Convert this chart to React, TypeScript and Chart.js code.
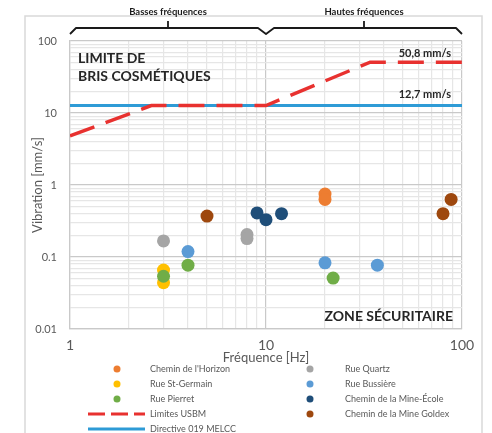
import React, { useEffect, useRef } from 'react';
import { Chart, registerables } from 'chart.js';

Chart.register(...registerables);

// ---------- Data ----------
const xDecades = [1, 10, 100];
const xDecadeLabels = ['1', '10', '100'];
const yDecades = [0.01, 0.1, 1, 10, 100];
const yDecadeLabels = ['0.01', '0.1', '1', '10', '100'];

const horizonFreq = [20, 20];
const horizonVel = [0.75, 0.63];
const stGermainFreq = [3, 3];
const stGermainVel = [0.066, 0.044];
const pierretFreq = [3, 4, 22];
const pierretVel = [0.054, 0.077, 0.051];
const quartzFreq = [3, 8, 8];
const quartzVel = [0.167, 0.205, 0.18];
const bussiereFreq = [4, 20, 37];
const bussiereVel = [0.119, 0.083, 0.077];
const mineEcoleFreq = [9, 10, 12];
const mineEcoleVel = [0.41, 0.33, 0.4];
const goldexFreq = [5, 80, 88];
const goldexVel = [0.37, 0.4, 0.63];

const usbmFreq = [1, 2.6, 10, 34, 100];
const usbmVel = [4.8, 12.7, 12.7, 50.8, 50.8];
const directiveFreq = [1, 100];
const directiveVel = [12.7, 12.7];

const seriesLabels = [
  "Chemin de l'Horizon",
  'Rue St-Germain',
  'Rue Pierret',
  'Rue Quartz',
  'Rue Bussière',
  'Chemin de la Mine-École',
  'Chemin de la Mine Goldex',
  'Limites USBM',
  'Directive 019 MELCC',
];

const FONT = 'Lato, "Open Sans", sans-serif';
const GREY_TEXT = '#595959';

const pts = (xs: number[], ys: number[]) => xs.map((x, i) => ({ x, y: ys[i] }));

const minorTicks = (decades: number[]) => {
  const out: number[] = [];
  for (let d = 0; d < decades.length - 1; d++) {
    for (let k = 1; k <= 9; k++) out.push(decades[d] * k);
  }
  out.push(decades[decades.length - 1]);
  return out;
};

const isDecade = (v: number) => Math.abs(Math.log10(v) - Math.round(Math.log10(v))) < 1e-9;

const labelFor = (v: number, decades: number[], labels: string[]) => {
  for (let i = 0; i < decades.length; i++) {
    if (Math.abs(Math.log10(v) - Math.log10(decades[i])) < 1e-9) return labels[i];
  }
  return '';
};

const overlayPlugin = {
  id: 'overlay',
  afterDraw(chart: any) {
    const { ctx, chartArea: ca, scales } = chart;
    const xs = scales.x;
    const ys = scales.y;
    ctx.save();

    // outer frame
    ctx.strokeStyle = '#D9D9D9';
    ctx.lineWidth = 1.5;
    ctx.beginPath();
    ctx.moveTo(25, 440);
    ctx.lineTo(25, 16);
    ctx.lineTo(482, 16);
    ctx.lineTo(482, 440);
    ctx.stroke();

    // brackets
    const x1 = xs.getPixelForValue(xDecades[0]);
    const x10 = xs.getPixelForValue(xDecades[1]);
    const x100 = xs.getPixelForValue(xDecades[2]);
    const by = 28;
    const be = 34;
    ctx.strokeStyle = '#1a1a1a';
    ctx.lineWidth = 1.8;
    ctx.lineJoin = 'round';
    ctx.beginPath();
    ctx.moveTo(x1, be);
    ctx.lineTo(x1 + 6, by);
    ctx.lineTo(x10 - 8, by);
    ctx.lineTo(x10, be);
    ctx.lineTo(x10 + 8, by);
    ctx.lineTo(x100 - 6, by);
    ctx.lineTo(x100, be);
    ctx.stroke();
    const c1 = (x1 + x10) / 2;
    const c2 = (x10 + x100) / 2;
    ctx.beginPath();
    ctx.moveTo(c1, by);
    ctx.lineTo(c1, 21);
    ctx.moveTo(c2, by);
    ctx.lineTo(c2, 21);
    ctx.stroke();

    ctx.fillStyle = '#1a1a1a';
    ctx.font = `bold 9.5px ${FONT}`;
    ctx.textAlign = 'center';
    ctx.textBaseline = 'middle';
    ctx.fillText('Basses fréquences', c1, 12);
    ctx.fillText('Hautes fréquences', c2, 12);

    // annotations in plot
    ctx.fillStyle = '#262626';
    ctx.font = `bold 14px ${FONT}`;
    ctx.textAlign = 'left';
    ctx.fillText('LIMITE DE', ca.left + 8, 58);
    ctx.fillText('BRIS COSMÉTIQUES', ca.left + 8, 76);
    ctx.textAlign = 'right';
    ctx.fillText('ZONE SÉCURITAIRE', ca.right - 9, ca.bottom - 13);
    ctx.font = `bold 11px ${FONT}`;
    ctx.fillText('50,8 mm/s', ca.right - 11, ys.getPixelForValue(50.8) - 9);
    ctx.fillText('12,7 mm/s', ca.right - 11, ys.getPixelForValue(12.7) - 11);

    // axis titles
    ctx.fillStyle = GREY_TEXT;
    ctx.font = `13px ${FONT}`;
    ctx.textAlign = 'center';
    ctx.fillText('Fréquence [Hz]', x10, 358);
    ctx.save();
    ctx.translate(38, ys.getPixelForValue(1));
    ctx.rotate(-Math.PI / 2);
    ctx.fillText('Vibration [mm/s]', 0, 0);
    ctx.restore();

    // legend
    const ds = chart.data.datasets;
    const leftCol = [0, 1, 2, 7, 8];
    const rightCol = [3, 4, 5, 6];
    const rowY = (i: number) => 369 + i * 15;
    ctx.font = `9px ${FONT}`;
    ctx.textAlign = 'left';
    const drawEntry = (idx: number, row: number, mx: number, tx: number) => {
      const d = ds[idx];
      const y = rowY(row);
      if (d.showLine) {
        ctx.strokeStyle = d.borderColor;
        ctx.lineWidth = 3;
        ctx.setLineDash(d.borderDash && d.borderDash.length ? [17, 6] : []);
        ctx.beginPath();
        ctx.moveTo(88, y);
        ctx.lineTo(145, y);
        ctx.stroke();
        ctx.setLineDash([]);
      } else {
        ctx.fillStyle = d.backgroundColor;
        ctx.beginPath();
        ctx.arc(mx, y, 3.5, 0, Math.PI * 2);
        ctx.fill();
      }
      ctx.fillStyle = GREY_TEXT;
      ctx.fillText(d.label, tx, y);
    };
    leftCol.forEach((idx, r) => drawEntry(idx, r, 117, 150));
    rightCol.forEach((idx, r) => drawEntry(idx, r, 310, 345));

    ctx.restore();
  },
};

const whiteBg = {
  id: 'whiteBg',
  beforeDraw(chart: any) {
    const { ctx, width, height } = chart;
    ctx.save();
    ctx.fillStyle = '#ffffff';
    ctx.fillRect(0, 0, width, height);
    ctx.restore();
  },
};

export default function App() {
  const ref = useRef<HTMLCanvasElement | null>(null);

  useEffect(() => {
    document.body.style.margin = '0';
    if (!ref.current) return;

    const scatterDs = (label: string, xs: number[], ys: number[], color: string, order: number) => ({
      type: 'scatter' as const,
      label,
      data: pts(xs, ys),
      backgroundColor: color,
      borderColor: color,
      borderWidth: 0,
      pointRadius: 6.5,
      pointHoverRadius: 6.5,
      showLine: false,
      order,
    });

    const datasets: any[] = [
      scatterDs(seriesLabels[0], horizonFreq, horizonVel, '#ED7D31', 1),
      scatterDs(seriesLabels[1], stGermainFreq, stGermainVel, '#FFC000', 2),
      scatterDs(seriesLabels[2], pierretFreq, pierretVel, '#70AD47', 1),
      scatterDs(seriesLabels[3], quartzFreq, quartzVel, '#A5A5A5', 1),
      scatterDs(seriesLabels[4], bussiereFreq, bussiereVel, '#5B9BD5', 1),
      scatterDs(seriesLabels[5], mineEcoleFreq, mineEcoleVel, '#1F4E79', 1),
      scatterDs(seriesLabels[6], goldexFreq, goldexVel, '#9E480E', 1),
      {
        type: 'line',
        label: seriesLabels[7],
        data: pts(usbmFreq, usbmVel),
        borderColor: '#E8312F',
        backgroundColor: '#E8312F',
        borderWidth: 3.5,
        borderDash: [26, 12],
        pointRadius: 0,
        showLine: true,
        fill: false,
        tension: 0,
        order: 5,
      },
      {
        type: 'line',
        label: seriesLabels[8],
        data: pts(directiveFreq, directiveVel),
        borderColor: '#2E9BD6',
        backgroundColor: '#2E9BD6',
        borderWidth: 3,
        borderDash: [],
        pointRadius: 0,
        showLine: true,
        fill: false,
        tension: 0,
        order: 6,
      },
    ];

    const chart = new Chart(ref.current, {
      type: 'scatter',
      data: { datasets },
      options: {
        animation: false,
        responsive: false,
        devicePixelRatio: 1,
        layout: { padding: { top: 41, right: 30, left: 0, bottom: 0 } },
        plugins: { legend: { display: false }, tooltip: { enabled: false } },
        scales: {
          x: {
            type: 'logarithmic',
            position: 'bottom',
            min: xDecades[0],
            max: xDecades[xDecades.length - 1],
            afterBuildTicks: (scale: any) => {
              scale.ticks = minorTicks(xDecades).map((v) => ({ value: v }));
            },
            afterFit: (scale: any) => {
              scale.height = 104;
            },
            ticks: {
              autoSkip: false,
              maxRotation: 0,
              padding: 8,
              color: GREY_TEXT,
              font: { family: FONT, size: 14 },
              callback: (v: any) => labelFor(Number(v), xDecades, xDecadeLabels),
            },
            grid: {
              drawTicks: false,
              color: (c: any) => (c.tick && isDecade(c.tick.value) ? '#C9C9C9' : '#E6E6E6'),
              lineWidth: 1.2,
            },
            border: { display: true, color: '#C9C9C9', width: 1.2 },
            title: { display: false },
          },
          y: {
            type: 'logarithmic',
            position: 'left',
            min: yDecades[0],
            max: yDecades[yDecades.length - 1],
            afterBuildTicks: (scale: any) => {
              scale.ticks = minorTicks(yDecades).map((v) => ({ value: v }));
            },
            afterFit: (scale: any) => {
              scale.width = 70;
            },
            ticks: {
              autoSkip: false,
              padding: 13,
              color: GREY_TEXT,
              font: { family: FONT, size: 11 },
              callback: (v: any) => labelFor(Number(v), yDecades, yDecadeLabels),
            },
            grid: {
              drawTicks: false,
              color: (c: any) => (c.tick && isDecade(c.tick.value) ? '#C9C9C9' : '#E6E6E6'),
              lineWidth: 1.2,
            },
            border: { display: true, color: '#C9C9C9', width: 1.2 },
            title: { display: false },
          },
        },
      },
      plugins: [whiteBg, overlayPlugin],
    } as any);

    return () => chart.destroy();
  }, []);

  return (
    <div style={{ width: 492, height: 433, position: 'relative' }}>
      <canvas ref={ref} width={492} height={433} style={{ width: 492, height: 433, display: 'block' }} />
    </div>
  );
}
